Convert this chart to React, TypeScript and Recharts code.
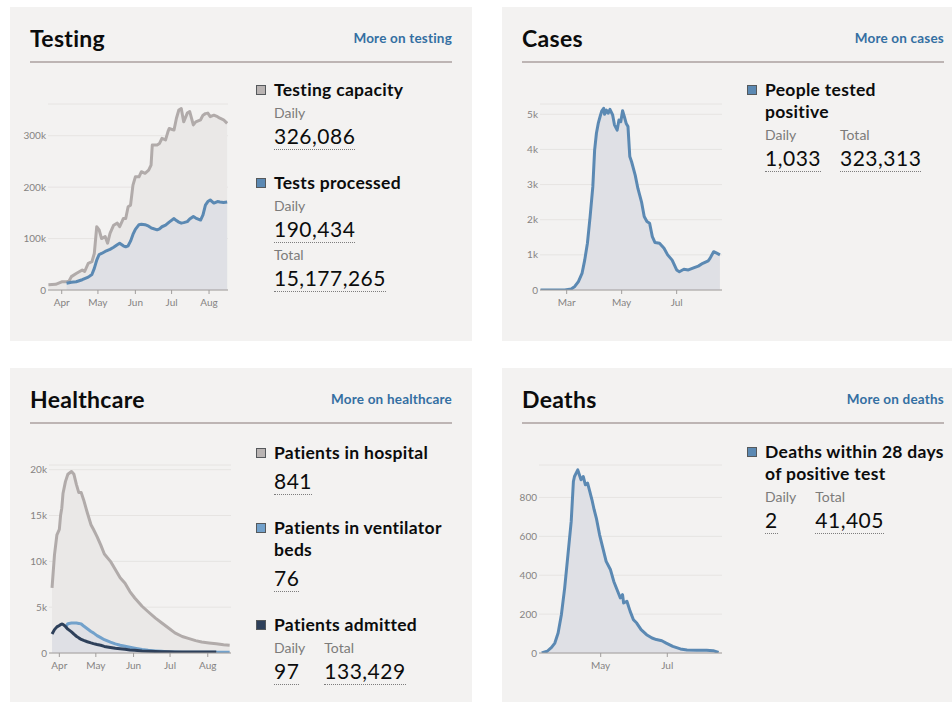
import { AreaChart, Area, XAxis, YAxis, CartesianGrid } from 'recharts'

const FONT = 'Lato, "Noto Sans", sans-serif'
const INK = '#0b0c0c'
const MUTED = '#7c7b7a'
const LINK = '#336fa2'
const PANEL_BG = '#f3f2f1'
const RULE = '#bdb5b4'
const TICK = '#858382'

const GREY_LINE = '#b1abaa'
const GREY_FILL = '#eae8e7'
const BLUE_LINE = '#5b89b3'
const BLUE_FILL = '#dfe0e5'
const LIGHT_BLUE_LINE = '#72a1cb'
const NAVY_LINE = '#2e405a'

const MONTHS = ['Jan', 'Feb', 'Mar', 'Apr', 'May', 'Jun', 'Jul', 'Aug', 'Sep', 'Oct', 'Nov', 'Dec']

// all dates are MM-DD in 2020, turned into day-of-year numbers for a numeric x axis
const dayOf = (md: string) => {
  const [m, d] = md.split('-').map(Number)
  return Math.round((Date.UTC(2020, m - 1, d) - Date.UTC(2020, 0, 1)) / 86400000)
}
const monthTick = (d: number) => MONTHS[new Date(Date.UTC(2020, 0, 1 + Math.round(d))).getUTCMonth()]
const kTick = (v: number) => (v === 0 ? '0' : `${v / 1000}k`)

// ---- Testing
const testingDates = [
  '03-21', '03-27', '04-01', '04-05', '04-07', '04-09', '04-13', '04-18', '04-20', '04-23',
  '04-26', '04-28', '04-30', '05-02', '05-04', '05-07', '05-09', '05-11', '05-14', '05-17',
  '05-19', '05-22', '05-24', '05-26', '05-28', '05-30', '06-01', '06-04', '06-06', '06-09',
  '06-12', '06-14', '06-15', '06-19', '06-21', '06-23', '06-26', '06-28', '06-29', '07-03',
  '07-05', '07-07', '07-09', '07-11', '07-14', '07-16', '07-19', '07-21', '07-25', '07-27',
  '07-29', '07-31', '08-02', '08-05', '08-08', '08-10', '08-13', '08-16',
]
const testingCapacity = [
  10000, 11000, 16000, 16000, 17000, 26000, 32000, 39000, 36000, 52000,
  55000, 71000, 123000, 117000, 100000, 104000, 91000, 110000, 126000, 130000,
  123000, 139000, 139000, 162000, 165000, 204000, 220000, 220000, 230000, 227000,
  233000, 243000, 282000, 282000, 285000, 295000, 292000, 308000, 314000, 311000,
  334000, 350000, 353000, 327000, 344000, 347000, 321000, 327000, 331000, 340000,
  343000, 344000, 337000, 340000, 337000, 334000, 331000, 324000,
]
const testsProcessed = [
  null, null, null, 13000, 14000, 15000, 16000, 20000, 22000, 25000,
  30000, 42000, 58000, 69000, 71000, 75000, 77000, 79000, 83000, 88000,
  91000, 86000, 84000, 86000, 95000, 108000, 118000, 127000, 128000, 127000,
  124000, 121000, 120000, 117000, 119000, 123000, 126000, 130000, 132000, 139000,
  135000, 132000, 130000, 131000, 133000, 138000, 143000, 140000, 136000, 146000,
  165000, 172000, 175000, 169000, 172000, 171000, 170000, 171000,
]

// ---- Cases
const casesDates = [
  '02-01', '02-28', '03-06', '03-10', '03-14', '03-18', '03-21', '03-24', '03-27', '03-30',
  '04-01', '04-03', '04-05', '04-07', '04-09', '04-11', '04-12', '04-14', '04-16', '04-18',
  '04-21', '04-23', '04-26', '04-28', '04-30', '05-02', '05-04', '05-06', '05-08', '05-10',
  '05-12', '05-16', '05-19', '05-23', '05-26', '05-29', '06-01', '06-04', '06-07', '06-12',
  '06-17', '06-21', '06-26', '07-01', '07-04', '07-09', '07-14', '07-19', '07-25', '07-30',
  '08-05', '08-07', '08-11', '08-15', '08-18',
]
const testedPositive = [
  0, 0, 30, 100, 240, 470, 850, 1330, 2090, 2940,
  3980, 4460, 4740, 4930, 5100, 5170, 5000, 5120, 5030, 5140,
  4980, 4700, 4550, 4840, 4790, 5100, 4930, 4740, 4650, 3800,
  3650, 3270, 2890, 2510, 2090, 1950, 1900, 1520, 1350, 1330,
  1190, 1000, 850, 570, 520, 590, 570, 620, 680, 760,
  830, 900, 1090, 1040, 1000,
]

// ---- Healthcare
const healthDates = [
  '03-26', '03-28', '03-30', '04-01', '04-02', '04-03', '04-04', '04-06', '04-08', '04-11',
  '04-13', '04-15', '04-17', '04-19', '04-21', '04-24', '04-27', '04-29', '05-02', '05-05',
  '05-08', '05-13', '05-17', '05-21', '05-25', '05-29', '06-02', '06-08', '06-13', '06-19',
  '06-24', '06-30', '07-05', '07-11', '07-16', '07-22', '07-27', '08-02', '08-08', '08-14',
  '08-19',
]
const inHospital = [
  7100, 10700, 12900, 13500, 15000, 15800, 17400, 18700, 19500, 19800,
  19500, 18400, 17500, 17500, 16700, 15300, 14000, 13500, 12700, 11800,
  10800, 10000, 9100, 8200, 7600, 6700, 6000, 5100, 4500, 3800,
  3300, 2700, 2200, 1800, 1600, 1350, 1200, 1100, 1000, 900,
  840,
]
const ventilatorBeds = [
  null, null, null, null, 1800, 2100, 2400, 2800, 3200, 3270,
  3270, 3270, 3230, 3160, 2950, 2650, 2350, 2200, 1900, 1680,
  1450, 1180, 1000, 850, 730, 620, 520, 380, 300, 230,
  180, 120, 100, 90, 85, 80, 75, 72, 70, 75,
  76,
]
const admitted = [
  2070, 2550, 2850, 3000, 3100, 3160, 3120, 2900, 2600, 2300,
  2050, 1830, 1650, 1480, 1370, 1230, 1100, 1020, 920, 840,
  720, 610, 530, 470, 400, 330, 290, 230, 200, 170,
  150, 130, 115, 108, 104, 100, 99, 98, 97, null,
  null,
]

// ---- Deaths
const deathDates = [
  '03-08', '03-13', '03-17', '03-20', '03-23', '03-26', '03-29', '04-01', '04-04', '04-06',
  '04-07', '04-10', '04-11', '04-13', '04-15', '04-17', '04-19', '04-21', '04-23', '04-25',
  '04-27', '04-30', '05-03', '05-06', '05-10', '05-13', '05-16', '05-19', '05-21', '05-22',
  '05-25', '05-28', '05-31', '06-03', '06-07', '06-12', '06-17', '06-21', '06-26', '06-30',
  '07-06', '07-13', '07-19', '07-28', '08-06', '08-12', '08-17',
]
const deaths = [
  0, 9, 29, 51, 103, 197, 334, 505, 677, 882,
  908, 942, 925, 891, 908, 865, 874, 831, 788, 737,
  694, 608, 540, 471, 428, 368, 325, 283, 300, 257,
  266, 214, 171, 154, 120, 94, 77, 69, 63, 51,
  34, 21, 15, 14, 14, 12, 3,
]

const toRows = (dates: string[], series: Record<string, (number | null)[]>) =>
  dates.map((d, i) => {
    const row: Record<string, number | null> = { day: dayOf(d) }
    for (const k of Object.keys(series)) row[k] = series[k][i]
    return row
  })

const testingRows = toRows(testingDates, { capacity: testingCapacity, processed: testsProcessed })
const casesRows = toRows(casesDates, { positive: testedPositive })
const healthRows = toRows(healthDates, { hospital: inHospital, ventilators: ventilatorBeds, admitted })
const deathRows = toRows(deathDates, { deaths })

type Series = { key: string; stroke: string; fill: string }

function MiniChart({
  left, top, width, height, yWidth, data, xDomain, xTicks, yDomain, yTicks, yFormat, series,
}: {
  left: number; top: number; width: number; height: number; yWidth: number
  data: Record<string, number | null>[]
  xDomain: [number, number]; xTicks: number[]
  yDomain: [number, number]; yTicks: number[]
  yFormat: (v: number) => string
  series: Series[]
}) {
  return (
    <div style={{ position: 'absolute', left, top }}>
      <AreaChart width={width} height={height} data={data} margin={{ top: 14, right: 0, bottom: 0, left: 0 }}>
        <CartesianGrid vertical={false} stroke="#e6e4e2" />
        <XAxis
          type="number"
          dataKey="day"
          domain={xDomain}
          ticks={xTicks}
          interval={0}
          allowDataOverflow
          tickFormatter={monthTick}
          height={20}
          tickSize={4}
          tickMargin={5}
          stroke="#a09d9c"
          tick={{ fontSize: 10, fill: TICK, fontFamily: FONT }}
        />
        <YAxis
          type="number"
          domain={yDomain}
          ticks={yTicks}
          interval={0}
          allowDataOverflow
          width={yWidth}
          axisLine={false}
          tickLine={false}
          tickSize={0}
          tickMargin={2}
          tickFormatter={yFormat}
          tick={{ fontSize: 10, fill: TICK, fontFamily: FONT }}
        />
        {series.map((s) => (
          <Area
            key={s.key}
            type="linear"
            dataKey={s.key}
            stroke={s.stroke}
            strokeWidth={3}
            strokeLinejoin="round"
            fill={s.fill}
            fillOpacity={1}
            dot={false}
            activeDot={false}
            connectNulls
            isAnimationActive={false}
          />
        ))}
      </AreaChart>
    </div>
  )
}

function Panel({ left, top, title, link }: { left: number; top: number; title: string; link: string }) {
  return (
    <div style={{ position: 'absolute', left, top, width: 462, height: 334, background: PANEL_BG }}>
      <div style={{
        position: 'absolute', left: 20, top: 17, fontSize: 23, lineHeight: '28px', fontWeight: 700,
        letterSpacing: 0.3, color: INK,
      }}>
        {title}
      </div>
      <div style={{
        position: 'absolute', right: 20, top: 23, fontSize: 13.5, lineHeight: '16px', fontWeight: 700,
        letterSpacing: 0.2, color: LINK,
      }}>
        {link}
      </div>
      <div style={{ position: 'absolute', left: 20, right: 20, top: 54, height: 1.5, background: RULE }} />
    </div>
  )
}

type Stat = { label?: string; value: string }

function LegendItem({ color, title, stats, stacked }: {
  color: string; title: string[]; stats: Stat[]; stacked?: boolean
}) {
  return (
    <div style={{ position: 'relative', paddingLeft: 18, marginBottom: 22 }}>
      <div style={{
        position: 'absolute', left: 0, top: 6, width: 8, height: 8,
        background: color, border: '1px solid #55595c',
      }} />
      <div style={{ fontSize: 17.5, lineHeight: '22px', fontWeight: 700, letterSpacing: 0.3, color: INK }}>
        {title.map((t) => <div key={t}>{t}</div>)}
      </div>
      <div style={{ display: 'flex', flexDirection: stacked ? 'column' : 'row', columnGap: 19 }}>
        {stats.map((s) => (
          <div key={s.value} style={{ marginTop: s.label ? 3 : 5 }}>
            {s.label && <div style={{ fontSize: 14, lineHeight: '18px', color: MUTED }}>{s.label}</div>}
            <div style={{
              display: 'inline-block', marginTop: s.label ? 2 : 0, fontSize: 21, lineHeight: '24px',
              letterSpacing: 0.5, color: INK, paddingBottom: 1, borderBottom: '1px dotted #7d7d7d',
            }}>
              {s.value}
            </div>
          </div>
        ))}
      </div>
    </div>
  )
}

const testingTicks = ['04-01', '05-01', '06-01', '07-01', '08-01'].map(dayOf)
const casesTicks = ['03-01', '05-01', '07-01'].map(dayOf)
const deathTicks = ['05-01', '07-01'].map(dayOf)

export default function App() {
  return (
    <div style={{
      position: 'absolute', left: 0, top: 0, width: 952, height: 704, overflow: 'hidden',
      background: '#fff', fontFamily: FONT,
    }}>
      <Panel left={10} top={7} title="Testing" link="More on testing" />
      <Panel left={502} top={7} title="Cases" link="More on cases" />
      <Panel left={10} top={368} title="Healthcare" link="More on healthcare" />
      <Panel left={502} top={368} title="Deaths" link="More on deaths" />

      <MiniChart
        left={10} top={90} width={218} height={220} yWidth={38}
        data={testingRows}
        xDomain={[79.65, 228.7]} xTicks={testingTicks}
        yDomain={[0, 361700]} yTicks={[0, 100000, 200000, 300000]} yFormat={kTick}
        series={[
          { key: 'capacity', stroke: GREY_LINE, fill: GREY_FILL },
          { key: 'processed', stroke: BLUE_LINE, fill: BLUE_FILL },
        ]}
      />
      <MiniChart
        left={502} top={90} width={220} height={220} yWidth={38}
        data={casesRows}
        xDomain={[30.4, 232.3]} xTicks={casesTicks}
        yDomain={[0, 5293]} yTicks={[0, 1000, 2000, 3000, 4000, 5000]} yFormat={kTick}
        series={[{ key: 'positive', stroke: BLUE_LINE, fill: BLUE_FILL }]}
      />
      <MiniChart
        left={10} top={451} width={221} height={222} yWidth={39}
        data={healthRows}
        xDomain={[82.5, 232.1]} xTicks={testingTicks}
        yDomain={[0, 20513]} yTicks={[0, 5000, 10000, 15000, 20000]} yFormat={kTick}
        series={[
          { key: 'hospital', stroke: GREY_LINE, fill: GREY_FILL },
          { key: 'ventilators', stroke: LIGHT_BLUE_LINE, fill: BLUE_FILL },
          { key: 'admitted', stroke: NAVY_LINE, fill: BLUE_FILL },
        ]}
      />
      <MiniChart
        left={502} top={451} width={220} height={222} yWidth={37}
        data={deathRows}
        xDomain={[64.5, 232.1]} xTicks={deathTicks}
        yDomain={[0, 967]} yTicks={[0, 200, 400, 600, 800]} yFormat={(v) => String(v)}
        series={[{ key: 'deaths', stroke: BLUE_LINE, fill: BLUE_FILL }]}
      />

      <div style={{ position: 'absolute', left: 256, top: 79.4, width: 200 }}>
        <LegendItem color="#b9b4b3" title={['Testing capacity']} stats={[{ label: 'Daily', value: '326,086' }]} />
        <LegendItem color={BLUE_LINE} title={['Tests processed']} stacked
          stats={[{ label: 'Daily', value: '190,434' }, { label: 'Total', value: '15,177,265' }]} />
      </div>
      <div style={{ position: 'absolute', left: 747, top: 79, width: 200 }}>
        <LegendItem color={BLUE_LINE} title={['People tested', 'positive']}
          stats={[{ label: 'Daily', value: '1,033' }, { label: 'Total', value: '323,313' }]} />
      </div>
      <div style={{ position: 'absolute', left: 256, top: 441.7, width: 200 }}>
        <LegendItem color="#b9b4b3" title={['Patients in hospital']} stats={[{ value: '841' }]} />
        <LegendItem color={LIGHT_BLUE_LINE} title={['Patients in ventilator', 'beds']} stats={[{ value: '76' }]} />
        <LegendItem color={NAVY_LINE} title={['Patients admitted']}
          stats={[{ label: 'Daily', value: '97' }, { label: 'Total', value: '133,429' }]} />
      </div>
      <div style={{ position: 'absolute', left: 747, top: 441.4, width: 205 }}>
        <LegendItem color={BLUE_LINE} title={['Deaths within 28 days', 'of positive test']}
          stats={[{ label: 'Daily', value: '2' }, { label: 'Total', value: '41,405' }]} />
      </div>
    </div>
  )
}
